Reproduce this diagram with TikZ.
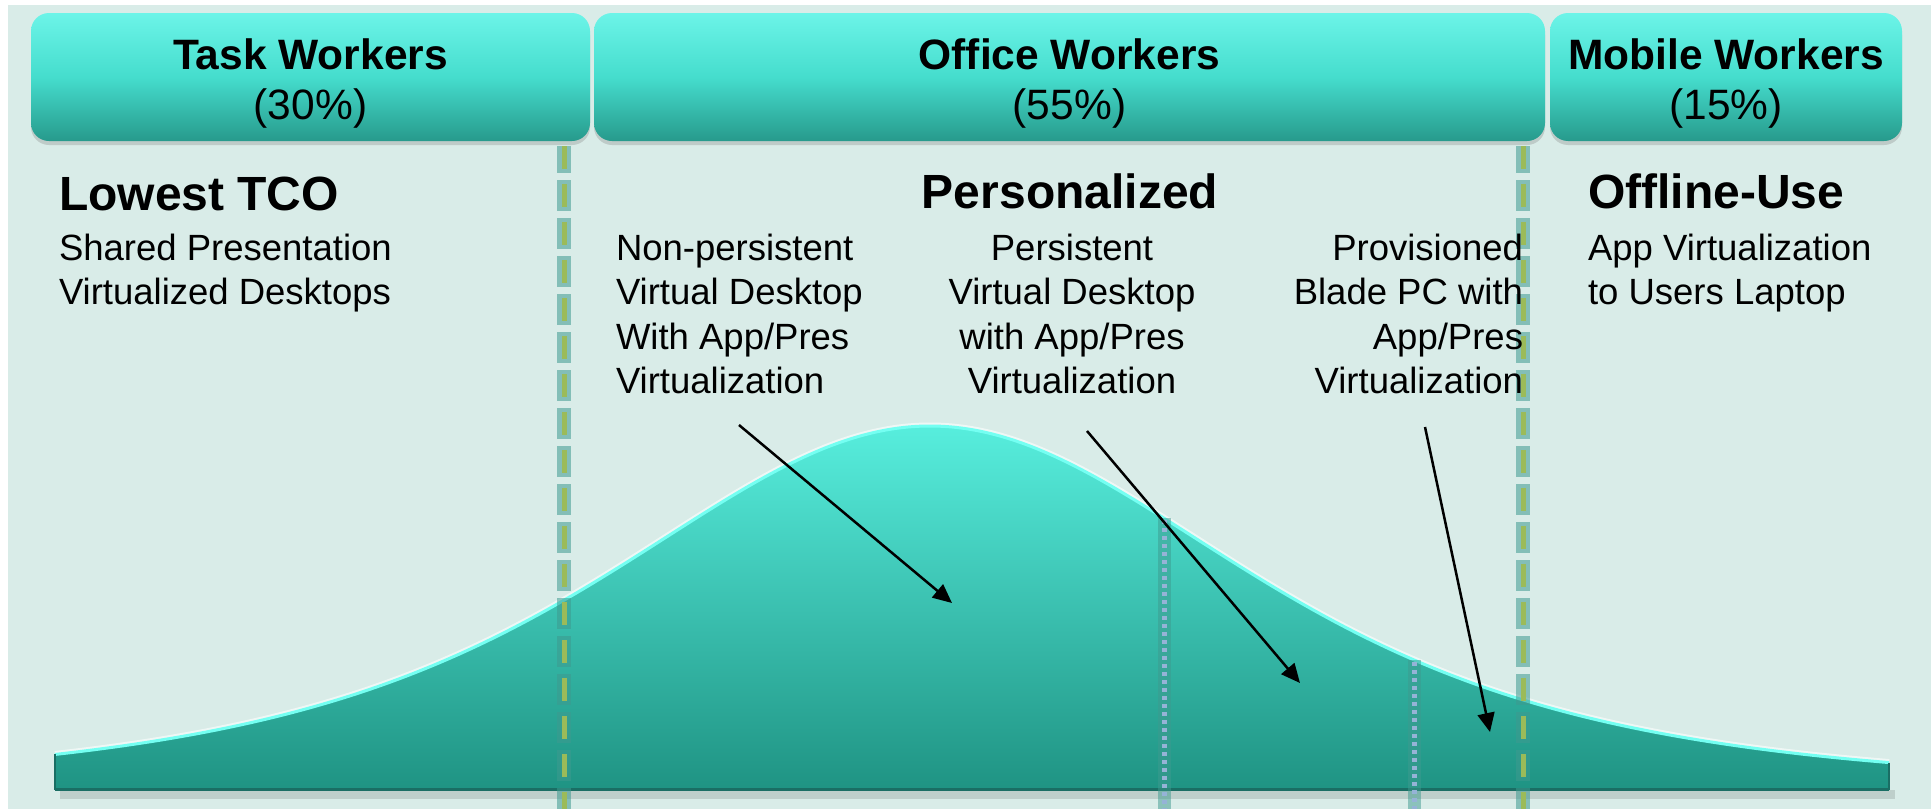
\documentclass[tikz,border=0pt]{standalone}
\usepackage{fontspec}
\setmainfont{Liberation Sans}
\usetikzlibrary{arrows.meta,shadows}
\definecolor{bgpale}{HTML}{D9ECE8}
\definecolor{boxtop}{HTML}{6CF4E8}
\definecolor{boxmid}{HTML}{45DDCD}
\definecolor{boxbot}{HTML}{279A8C}
\definecolor{belltop}{HTML}{57EEDD}
\definecolor{bellbot}{HTML}{1F9383}
\definecolor{bellrim}{HTML}{74FFF2}
\definecolor{bellbase}{HTML}{1A6E64}
\definecolor{dashgreen}{HTML}{9BBB59}
\definecolor{dotblue}{HTML}{95B3D7}
\definecolor{haloteal}{HTML}{3E9A8F}
% outline of the bell, in pixels of the slide
\newcommand\bellcurve{plot[domain=55:1889, samples=160, smooth] (\x, {790-bellh(\x)})}

\begin{document}
\begin{tikzpicture}[x=1pt, y=1pt, yscale=-1, inner sep=0pt, outer sep=0pt,
  declare function={bellh(\t)=364/((1+((\t-930)/590)*((\t-930)/590))*(1+((\t-930)/590)*((\t-930)/590)));},
  headbox/.style={rounded corners=18pt, top color=boxtop, bottom color=boxbot, middle color=boxmid,
    minimum height=128pt, align=center, font=\fontsize{42.5}{50}\selectfont,
    drop shadow={shadow xshift=0pt, shadow yshift=-4pt, opacity=0.3}},
  subhead/.style={font=\fontsize{48}{54}\selectfont\bfseries},
  bodytxt/.style={font=\fontsize{36.5}{44.5}\selectfont},
  groupglow/.style={draw=haloteal, opacity=0.55, line width=14pt, dash pattern=on 31pt off 7pt, dash phase=4pt},
  groupdash/.style={draw=dashgreen, line width=5pt, dash pattern=on 23pt off 15pt},
  tierglow/.style={draw=haloteal, opacity=0.5, line width=13pt},
  tierdot/.style={draw=dotblue, line width=5pt, dash pattern=on 4pt off 4pt},
  pointer/.style={draw=black, line width=2.5pt, -{Triangle[length=19pt, width=17pt]}}]
\useasboundingbox (0,0) rectangle (1931,809);
\fill[white] (0,0) rectangle (1931,809);
\fill[bgpale] (8,5) rectangle (1931,809);

% the three groups
\node[headbox, minimum width=559pt] (task) at (310.5,77) {\rule{0pt}{43pt}{\bfseries Task Workers}\\(30\%)};
\node[headbox, minimum width=951pt] (office) at (1069.5,77) {\rule{0pt}{43pt}{\bfseries Office Workers}\\(55\%)};
\node[headbox, minimum width=352pt] (mobile) at (1726,77) {\rule{0pt}{43pt}{\bfseries Mobile Workers}\\(15\%)};

% bell
\fill[black, opacity=0.12] (60,790) rectangle (1895,799);
\draw[white, opacity=0.6, line width=7pt] \bellcurve;
\path[top color=belltop, bottom color=bellbot] \bellcurve -- (1889,790) -- (55,790) -- cycle;
\draw[bellrim, line width=3pt] \bellcurve;
\draw[bellbase, line width=3pt] (55,789) -- (1889,789);
\draw[bellbase, line width=2pt] (55,{790-bellh(55)}) -- (55,790) (1889,{790-bellh(1889)}) -- (1889,790);

% group borders
\foreach \gx in {564,1523}{
  \draw[groupglow] (\gx,146) -- (\gx,809);
  \draw[groupdash] (\gx,146) -- (\gx,809);
}
% tier borders, from the bell down
\foreach \tx in {1164,1414}{
  \draw[tierglow] (\tx,{790-bellh(\tx)}) -- (\tx,809);
  \draw[tierdot] (\tx,{792-bellh(\tx)}) -- (\tx,809);
}

% texts
\node[subhead, anchor=base west] (tco) at (59,210) {Lowest TCO};
\node[bodytxt, anchor=north west, align=left] (shared) at (59,234) {Shared Presentation\\Virtualized Desktops};
\node[subhead, anchor=base] (perso) at (1070,208) {Personalized};
\node[bodytxt, anchor=north west, align=left] (nonpers) at (616,234) {Non-persistent\\Virtual Desktop\\With App/Pres\\Virtualization};
\node[bodytxt, anchor=north, align=center] (pers) at (1072,234) {Persistent\\Virtual Desktop\\with App/Pres\\Virtualization};
\node[bodytxt, anchor=north east, align=right] (blade) at (1523,234) {Provisioned\\Blade PC with\\App/Pres\\Virtualization};
\node[subhead, anchor=base west] (offline) at (1588,208) {Offline-Use};
\node[bodytxt, anchor=north west, align=left] (appvirt) at (1588,234) {App Virtualization\\to Users Laptop};

% pointers into the bell
\coordinate (nonpers-tail) at (739,425);
\coordinate (nonpers-tip) at (952,603);
\coordinate (pers-tail) at (1087,431);
\coordinate (pers-tip) at (1300,683);
\coordinate (blade-tail) at (1425,427);
\coordinate (blade-tip) at (1490,732);
\draw[pointer] (nonpers-tail) -- (nonpers-tip);
\draw[pointer] (pers-tail) -- (pers-tip);
\draw[pointer] (blade-tail) -- (blade-tip);
\end{tikzpicture}
\end{document}
